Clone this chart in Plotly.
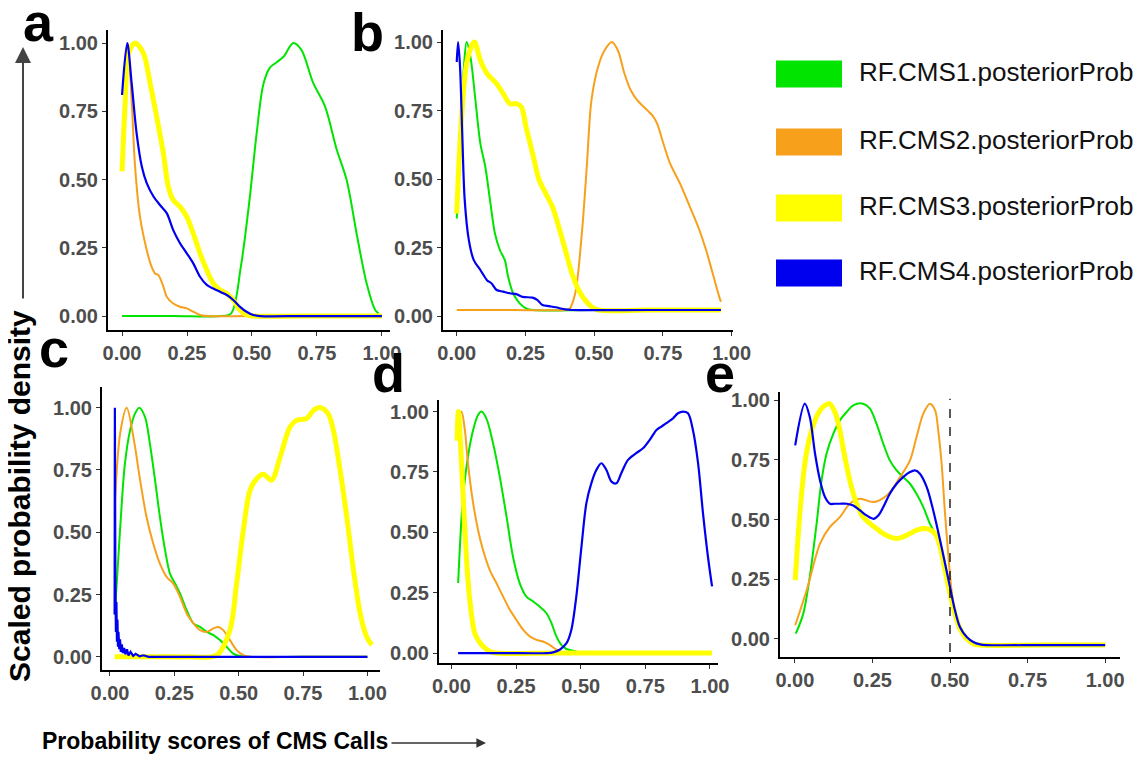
import plotly.graph_objects as go

# the page body adds an 8px margin, so the figure is drawn 8px in from the window's top-left corner
OFF = 8
WIN_W, WIN_H = 1141, 758
W, H = WIN_W - OFF, WIN_H - OFF

SERIES = ["RF.CMS1.posteriorProb", "RF.CMS2.posteriorProb", "RF.CMS3.posteriorProb", "RF.CMS4.posteriorProb"]
COLORS = ["#00E400", "#F7A01C", "#FFFF00", "#0000EE"]
WIDTHS = [2.0, 2.0, 5.0, 2.2]
TICKS = [0, 0.25, 0.5, 0.75, 1.0]
TICK_TEXT = ["0.00", "0.25", "0.50", "0.75", "1.00"]
PANEL_LABELS = ["a", "b", "c", "d", "e"]

# ---------------- panel a ----------------
A1_X = [0.0, 0.2, 0.38, 0.42, 0.457, 0.491, 0.518, 0.544, 0.569, 0.595, 0.621, 0.659, 0.69, 0.736, 0.781, 0.826, 0.864, 0.903, 0.941, 0.974, 0.987]
A1_Y = [0, 0, 0, 0.01, 0.18, 0.43, 0.67, 0.85, 0.91, 0.93, 0.95, 1.0, 0.975, 0.853, 0.768, 0.61, 0.499, 0.30, 0.12, 0.022, 0.01]
A2_X = [0.0, 0.01, 0.022, 0.037, 0.05, 0.069, 0.095, 0.114, 0.127, 0.14, 0.159, 0.172, 0.197, 0.223, 0.249, 0.274, 0.3, 0.326, 0.5, 1.0]
A2_Y = [0.55, 0.8, 1.0, 0.79, 0.55, 0.364, 0.242, 0.18, 0.156, 0.15, 0.108, 0.071, 0.046, 0.034, 0.028, 0.016, 0.004, 0.0, 0.0, 0.0]
A3_X = [0.0, 0.012, 0.024, 0.05, 0.082, 0.108, 0.133, 0.159, 0.178, 0.197, 0.223, 0.249, 0.274, 0.3, 0.326, 0.351, 0.377, 0.403, 0.428, 0.454, 0.479, 0.505, 0.7, 1.0]
A3_Y = [0.53, 0.78, 0.96, 1.0, 0.963, 0.853, 0.731, 0.597, 0.474, 0.425, 0.401, 0.364, 0.303, 0.23, 0.169, 0.12, 0.095, 0.083, 0.059, 0.022, 0.004, 0.0, 0.0, 0.0]
A4_X = [0.0, 0.02, 0.037, 0.056, 0.076, 0.095, 0.121, 0.146, 0.172, 0.197, 0.223, 0.249, 0.274, 0.3, 0.326, 0.351, 0.377, 0.403, 0.428, 0.454, 0.479, 0.505, 0.531, 0.7, 1.0]
A4_Y = [0.81, 1.0, 0.853, 0.67, 0.548, 0.487, 0.438, 0.407, 0.377, 0.315, 0.267, 0.23, 0.193, 0.144, 0.114, 0.101, 0.089, 0.077, 0.059, 0.034, 0.016, 0.004, 0.0, 0.0, 0.0]

# ---------------- panel b ----------------
B1_X = [0.0, 0.014, 0.026, 0.036, 0.05, 0.068, 0.086, 0.104, 0.121, 0.139, 0.157, 0.175, 0.187, 0.205, 0.229, 0.252, 0.276, 0.5, 0.961]
B1_Y = [0.356, 0.666, 0.909, 1.0, 0.945, 0.787, 0.629, 0.544, 0.423, 0.301, 0.241, 0.204, 0.143, 0.083, 0.046, 0.028, 0.022, 0.022, 0.022]
B2_X = [0.0, 0.2, 0.39, 0.41, 0.431, 0.455, 0.473, 0.49, 0.514, 0.538, 0.564, 0.586, 0.61, 0.633, 0.657, 0.681, 0.711, 0.729, 0.752, 0.776, 0.812, 0.848, 0.883, 0.907, 0.931, 0.955, 0.961]
B2_Y = [0.022, 0.022, 0.022, 0.026, 0.083, 0.301, 0.544, 0.787, 0.909, 0.97, 1.0, 0.97, 0.885, 0.824, 0.787, 0.763, 0.733, 0.702, 0.629, 0.557, 0.484, 0.399, 0.313, 0.241, 0.156, 0.07, 0.052]
B3_X = [0.0, 0.014, 0.038, 0.064, 0.086, 0.11, 0.145, 0.169, 0.193, 0.217, 0.235, 0.252, 0.276, 0.3, 0.324, 0.348, 0.371, 0.395, 0.419, 0.443, 0.467, 0.49, 0.514, 0.7, 0.961]
B3_Y = [0.374, 0.666, 0.933, 1.0, 0.933, 0.885, 0.848, 0.812, 0.775, 0.775, 0.763, 0.69, 0.593, 0.496, 0.447, 0.399, 0.326, 0.241, 0.156, 0.095, 0.058, 0.034, 0.022, 0.022, 0.022]
B4_X = [0.0, 0.005, 0.012, 0.02, 0.029, 0.044, 0.062, 0.086, 0.11, 0.127, 0.145, 0.169, 0.193, 0.217, 0.24, 0.276, 0.294, 0.312, 0.336, 0.36, 0.395, 0.419, 0.7, 0.961]
B4_Y = [0.927, 1.0, 0.909, 0.666, 0.423, 0.277, 0.204, 0.168, 0.131, 0.119, 0.095, 0.089, 0.083, 0.08, 0.07, 0.067, 0.058, 0.04, 0.036, 0.032, 0.024, 0.022, 0.022, 0.022]

# ---------------- panel c ----------------
C1_X = [0.019, 0.039, 0.058, 0.078, 0.097, 0.114, 0.136, 0.155, 0.175, 0.194, 0.214, 0.233, 0.253, 0.272, 0.298, 0.324, 0.35, 0.376, 0.402, 0.427, 0.453, 0.479, 0.505, 0.531, 0.75, 1.0]
C1_Y = [0.174, 0.508, 0.775, 0.909, 0.976, 1.0, 0.963, 0.856, 0.709, 0.561, 0.428, 0.334, 0.294, 0.254, 0.187, 0.134, 0.12, 0.1, 0.087, 0.067, 0.04, 0.013, 0.003, 0.0, 0.0, 0.0]
C2_X = [0.019, 0.04, 0.065, 0.091, 0.117, 0.142, 0.168, 0.194, 0.22, 0.246, 0.272, 0.298, 0.324, 0.35, 0.376, 0.402, 0.421, 0.44, 0.466, 0.492, 0.518, 0.544, 0.75, 1.0]
C2_Y = [0.615, 0.9, 1.0, 0.882, 0.709, 0.561, 0.455, 0.374, 0.321, 0.294, 0.241, 0.174, 0.134, 0.107, 0.1, 0.114, 0.12, 0.107, 0.067, 0.027, 0.007, 0.0, 0.0, 0.0]
C3_X = [0.018, 0.1, 0.2, 0.3, 0.415, 0.466, 0.492, 0.518, 0.544, 0.57, 0.596, 0.628, 0.661, 0.699, 0.725, 0.764, 0.79, 0.819, 0.848, 0.868, 0.894, 0.92, 0.946, 0.972, 0.997, 1.017]
C3_Y = [0.0, 0.0, 0.0, 0.0, 0.007, 0.107, 0.294, 0.508, 0.668, 0.715, 0.733, 0.709, 0.802, 0.922, 0.949, 0.956, 0.989, 1.0, 0.975, 0.909, 0.749, 0.561, 0.348, 0.174, 0.08, 0.047]
C4_X = [0.018, 0.019, 0.0195, 0.021, 0.023, 0.025, 0.027, 0.029, 0.031, 0.033, 0.036, 0.039, 0.042, 0.046, 0.05, 0.055, 0.06, 0.066, 0.072, 0.08, 0.09, 0.1, 0.115, 0.13, 0.15, 0.17, 1.0]
C4_Y = [0.17, 1.0, 0.55, 0.3, 0.1, 0.22, 0.06, 0.15, 0.04, 0.1, 0.03, 0.07, 0.02, 0.05, 0.015, 0.035, 0.01, 0.03, 0.005, 0.02, 0.004, 0.012, 0.002, 0.006, 0.0, 0.0, 0.0]

# ---------------- panel d ----------------
D1_X = [0.026, 0.045, 0.064, 0.084, 0.103, 0.116, 0.135, 0.161, 0.187, 0.213, 0.238, 0.264, 0.29, 0.316, 0.341, 0.367, 0.387, 0.406, 0.425, 0.445, 0.47, 0.496, 0.522, 0.75, 1.008]
D1_Y = [0.29, 0.648, 0.814, 0.924, 0.986, 1.0, 0.972, 0.869, 0.731, 0.566, 0.4, 0.29, 0.234, 0.214, 0.193, 0.166, 0.124, 0.069, 0.034, 0.017, 0.01, 0.003, 0.0, 0.0, 0.0]
D2_X = [0.026, 0.032, 0.039, 0.052, 0.064, 0.084, 0.103, 0.122, 0.148, 0.174, 0.2, 0.226, 0.251, 0.277, 0.303, 0.329, 0.354, 0.38, 0.406, 0.432, 0.7, 1.008]
D2_Y = [0.88, 0.993, 1.0, 0.924, 0.786, 0.621, 0.51, 0.428, 0.345, 0.29, 0.234, 0.179, 0.138, 0.097, 0.069, 0.055, 0.048, 0.034, 0.014, 0.0, 0.0, 0.0]
D3_X = [0.022, 0.027, 0.039, 0.052, 0.064, 0.077, 0.09, 0.103, 0.122, 0.148, 0.174, 0.4, 0.7, 1.008]
D3_Y = [0.88, 1.0, 0.786, 0.51, 0.303, 0.166, 0.083, 0.055, 0.028, 0.007, 0.0, 0.0, 0.0, 0.0]
D4_X = [0.026, 0.2, 0.37, 0.393, 0.419, 0.445, 0.464, 0.483, 0.503, 0.522, 0.541, 0.561, 0.58, 0.599, 0.619, 0.638, 0.657, 0.683, 0.715, 0.741, 0.767, 0.793, 0.812, 0.831, 0.857, 0.876, 0.896, 0.915, 0.934, 0.954, 0.973, 0.992, 1.008]
D4_Y = [0.0, 0.0, 0.0, 0.003, 0.014, 0.041, 0.097, 0.234, 0.441, 0.621, 0.703, 0.759, 0.786, 0.759, 0.71, 0.703, 0.745, 0.8, 0.828, 0.848, 0.883, 0.924, 0.938, 0.952, 0.972, 0.993, 1.0, 0.993, 0.924, 0.786, 0.579, 0.4, 0.276]

# ---------------- panel e ----------------
E1_X = [0.003, 0.027, 0.048, 0.07, 0.086, 0.102, 0.124, 0.145, 0.167, 0.188, 0.22, 0.242, 0.263, 0.285, 0.306, 0.328, 0.349, 0.371, 0.392, 0.414, 0.435, 0.457, 0.478, 0.5, 0.516, 0.532, 0.554, 0.575, 0.597, 0.8, 1.0]
E1_Y = [0.021, 0.105, 0.259, 0.483, 0.664, 0.776, 0.86, 0.916, 0.951, 0.979, 0.986, 0.965, 0.902, 0.818, 0.748, 0.706, 0.678, 0.65, 0.608, 0.552, 0.483, 0.427, 0.343, 0.217, 0.119, 0.049, 0.0, -0.021, -0.027, -0.027, -0.027]
E2_X = [0.001, 0.038, 0.081, 0.113, 0.145, 0.177, 0.21, 0.253, 0.296, 0.339, 0.371, 0.392, 0.414, 0.435, 0.452, 0.462, 0.473, 0.484, 0.495, 0.505, 0.516, 0.532, 0.554, 0.575, 0.597, 0.8, 1.0]
E2_Y = [0.056, 0.203, 0.399, 0.469, 0.51, 0.566, 0.587, 0.573, 0.601, 0.678, 0.748, 0.846, 0.944, 0.986, 0.958, 0.874, 0.734, 0.524, 0.343, 0.203, 0.105, 0.035, -0.007, -0.021, -0.027, -0.027, -0.027]
E3_X = [0.001, 0.016, 0.032, 0.048, 0.065, 0.081, 0.097, 0.111, 0.129, 0.145, 0.161, 0.177, 0.199, 0.22, 0.242, 0.263, 0.285, 0.306, 0.328, 0.349, 0.371, 0.392, 0.414, 0.435, 0.452, 0.468, 0.484, 0.5, 0.516, 0.532, 0.554, 0.575, 0.597, 0.8, 1.0]
E3_Y = [0.245, 0.524, 0.734, 0.846, 0.916, 0.958, 0.979, 0.986, 0.951, 0.874, 0.762, 0.664, 0.566, 0.51, 0.483, 0.462, 0.441, 0.427, 0.42, 0.427, 0.441, 0.455, 0.462, 0.457, 0.441, 0.385, 0.287, 0.189, 0.105, 0.042, 0.0, -0.021, -0.027, -0.027, -0.027]
E4_X = [0.001, 0.032, 0.048, 0.065, 0.081, 0.097, 0.113, 0.129, 0.145, 0.167, 0.188, 0.21, 0.231, 0.253, 0.269, 0.285, 0.306, 0.328, 0.349, 0.371, 0.387, 0.403, 0.425, 0.446, 0.468, 0.484, 0.5, 0.516, 0.532, 0.554, 0.575, 0.597, 0.618, 0.8, 1.0]
E4_Y = [0.811, 0.986, 0.93, 0.776, 0.664, 0.594, 0.566, 0.566, 0.566, 0.566, 0.559, 0.538, 0.517, 0.503, 0.517, 0.552, 0.608, 0.65, 0.678, 0.699, 0.706, 0.692, 0.636, 0.538, 0.413, 0.315, 0.217, 0.119, 0.049, 0.007, -0.014, -0.024, -0.027, -0.027, -0.027]
E_CUTOFF = 0.5
E_CUTOFF_Y = [-0.056, 1.007]

PANEL_DATA = [
    [(A1_X, A1_Y), (A2_X, A2_Y), (A3_X, A3_Y), (A4_X, A4_Y)],
    [(B1_X, B1_Y), (B2_X, B2_Y), (B3_X, B3_Y), (B4_X, B4_Y)],
    [(C1_X, C1_Y), (C2_X, C2_Y), (C3_X, C3_Y), (C4_X, C4_Y)],
    [(D1_X, D1_Y), (D2_X, D2_Y), (D3_X, D3_Y), (D4_X, D4_Y)],
    [(E1_X, E1_Y), (E2_X, E2_Y), (E3_X, E3_Y), (E4_X, E4_Y)],
]

# layout in window pixels: x-left, x-right, y-top, y-bottom of axes box; x range; y range
PANELS = [
    dict(px=(108, 390), py=(30, 330), xr=(-0.054, 1.031), yr=(-0.051, 1.048)),
    dict(px=(443, 733), py=(30, 330), xr=(-0.05, 1.005), yr=(-0.051, 1.044)),
    dict(px=(102, 380), py=(387, 670), xr=(-0.031, 1.049), yr=(-0.053, 1.083)),
    dict(px=(439, 718), py=(400, 663), xr=(-0.048, 1.031), yr=(-0.041, 1.048)),
    dict(px=(780, 1120), py=(392, 657), xr=(-0.048, 1.048), yr=(-0.077, 1.035)),
]
LABEL_POS = [(38, 22), (367, 32), (54, 348), (388, 373), (720, 373)]


def fx(p):
    return (p - OFF) / W


def fy(p):
    return 1 - (p - OFF) / H


FONT = "Liberation Sans, Arial, sans-serif"

fig = go.Figure()
layout = dict(
    width=W, height=H, margin=dict(l=0, r=0, t=0, b=0, autoexpand=False),
    paper_bgcolor="white", plot_bgcolor="white", showlegend=False,
)

for i, (pnl, data) in enumerate(zip(PANELS, PANEL_DATA)):
    n = "" if i == 0 else str(i + 1)
    xa, ya = "x" + n, "y" + n
    for k, (xs, ys) in enumerate(data):
        shape = "linear" if (i == 2 and k == 3) else "spline"
        fig.add_trace(go.Scatter(
            x=xs, y=ys, mode="lines", xaxis=xa, yaxis=ya, name=SERIES[k],
            line=dict(color=COLORS[k], width=WIDTHS[k], shape=shape, smoothing=0.9),
        ))
    common = dict(
        showline=True, linecolor="black", linewidth=2, showgrid=False, zeroline=False,
        ticks="outside", ticklen=4, tickwidth=1, tickcolor="#333333",
        tickvals=TICKS, ticktext=TICK_TEXT, automargin=False,
        tickfont=dict(family=FONT, size=20, color="#4D4D4D", weight="bold"),
    )
    layout["xaxis" + n] = dict(common, domain=[fx(pnl["px"][0]), fx(pnl["px"][1])],
                               range=list(pnl["xr"]), anchor=ya)
    layout["yaxis" + n] = dict(common, domain=[fy(pnl["py"][1]), fy(pnl["py"][0])],
                               range=list(pnl["yr"]), anchor=xa)

# dashed cut-off in panel e
fig.add_trace(go.Scatter(x=[E_CUTOFF, E_CUTOFF], y=E_CUTOFF_Y, mode="lines", xaxis="x5", yaxis="y5",
                         line=dict(color="black", width=1.3, dash="dash")))

annotations = []
for lab, (lx, ly) in zip(PANEL_LABELS, LABEL_POS):
    annotations.append(dict(text=lab, x=fx(lx), y=fy(ly), xref="paper", yref="paper",
                            xanchor="center", yanchor="middle", showarrow=False,
                            font=dict(family=FONT, size=54, color="black", weight="bold")))

# legend (custom swatches)
LEG_Y = [74, 142, 208, 273]
shapes = []
for k, cy in enumerate(LEG_Y):
    shapes.append(dict(type="rect", xref="paper", yref="paper",
                       x0=fx(776), x1=fx(842), y0=fy(cy + 13.5), y1=fy(cy - 13.5),
                       fillcolor=COLORS[k], line=dict(width=0)))
    annotations.append(dict(text=SERIES[k], x=fx(857), y=fy(cy - 2), xref="paper", yref="paper",
                            xanchor="left", yanchor="middle", showarrow=False,
                            font=dict(family=FONT, size=26, color="#111111")))

# axis titles
annotations.append(dict(text="Scaled probability density", x=fx(20), y=fy(496), xref="paper", yref="paper",
                        xanchor="center", yanchor="middle", showarrow=False, textangle=-90,
                        font=dict(family=FONT, size=30, color="black", weight="bold")))
annotations.append(dict(text="Probability scores of CMS Calls", x=fx(215), y=fy(741), xref="paper", yref="paper",
                        xanchor="center", yanchor="middle", showarrow=False,
                        font=dict(family=FONT, size=23, color="black", weight="bold")))
# arrows
annotations.append(dict(text="", x=fx(23), y=fy(47), xref="paper", yref="paper",
                        ax=0, ay=253, showarrow=True, arrowhead=2, arrowsize=1.6, arrowwidth=2,
                        arrowcolor="#444444", standoff=0))
annotations.append(dict(text="", x=fx(486), y=fy(743), xref="paper", yref="paper",
                        ax=-96, ay=0, showarrow=True, arrowhead=2, arrowsize=1.2, arrowwidth=1.6,
                        arrowcolor="#333333", standoff=0))

layout["annotations"] = annotations
layout["shapes"] = shapes
fig.update_layout(**layout)
fig.write_html("out.html")
